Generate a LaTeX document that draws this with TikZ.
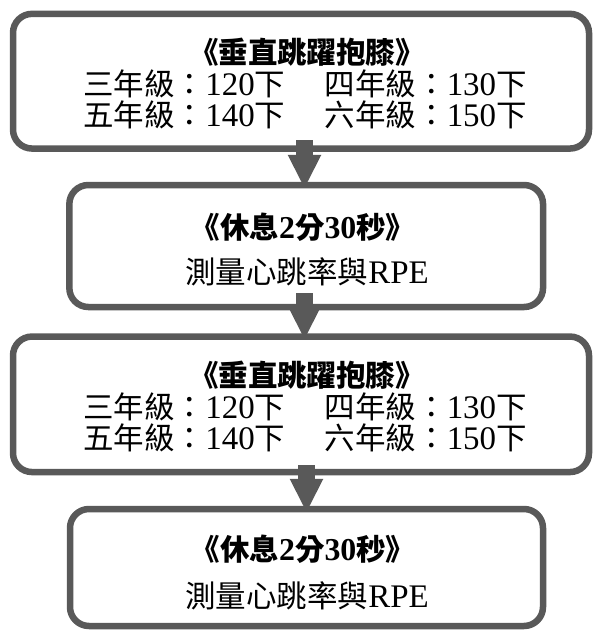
\documentclass[tikz,border=0pt]{standalone}
\usepackage{fontspec}
\setmainfont{Liberation Serif}[Scale=1.08]
\newfontfamily\cjk{Noto Sans CJK TC}
\newcommand{\C}[1]{{\cjk #1}}
\usetikzlibrary{arrows.meta}
\definecolor{bord}{HTML}{595959}
\tikzset{
  box/.style={draw=bord, line width=6.5pt, rounded corners=19pt, fill=white, inner sep=0pt},
  txt/.style={inner sep=0pt, font=\fontsize{30.5}{34}\selectfont, anchor=center},
  ttl/.style={inner sep=0pt, font=\fontsize{29.5}{33}\selectfont\bfseries, anchor=center},
  flow/.style={draw=bord, line width=17pt, -{Triangle[width=31pt,length=34pt]}}
}
\begin{document}
\begin{tikzpicture}[x=1pt,y=-1pt]
\useasboundingbox (0,0) rectangle (593,633);
\node[box, minimum width=576pt, minimum height=134.7pt] (b1) at (301,81.2) {};
\node[box, minimum width=473.7pt, minimum height=122pt] (b2) at (306.2,246) {};
\node[box, minimum width=576pt, minimum height=135.5pt] (b3) at (301,404.3) {};
\node[box, minimum width=473pt, minimum height=117pt] (b4) at (306.5,567.5) {};

\node[ttl] (t1) at (307,52) {\C{《垂直跳躍抱膝》}};
\node[txt] (l1a) at (305,84) {\C{三年級：}120\C{下}\hspace{1.2em}\C{四年級：}130\C{下}};
\node[txt] (l1b) at (305,115) {\C{五年級：}140\C{下}\hspace{1.2em}\C{六年級：}150\C{下}};

\node[ttl] (t2) at (303,227) {\C{《休息}2\C{分}30\C{秒》}};
\node[txt] (l2) at (307,272) {\C{測量心跳率與}RPE};

\node[ttl] (t3) at (307,375) {\C{《垂直跳躍抱膝》}};
\node[txt] (l3a) at (305,407) {\C{三年級：}120\C{下}\hspace{1.2em}\C{四年級：}130\C{下}};
\node[txt] (l3b) at (305,438) {\C{五年級：}140\C{下}\hspace{1.2em}\C{六年級：}150\C{下}};

\node[ttl] (t4) at (303,549) {\C{《休息}2\C{分}30\C{秒》}};
\node[txt] (l4) at (307,596) {\C{測量心跳率與}RPE};

\coordinate (a1s) at ([xshift=-1.7pt,yshift=11.5pt]b1.south -| b2.north);
\coordinate (a1e) at ([xshift=-1.7pt,yshift=-7pt]b2.north);
\coordinate (a2s) at ([xshift=-1.7pt,yshift=17pt]b2.south);
\coordinate (a2e) at ([xshift=-1.7pt,yshift=-6.5pt]b2.south |- b3.north);
\coordinate (a3s) at ([yshift=10pt]b3.south -| b4.north);
\coordinate (a3e) at ([yshift=-7pt]b4.north);

\draw[flow] (a1s) -- (a1e);
\draw[flow] (a2s) -- (a2e);
\draw[flow] (a3s) -- (a3e);
\end{tikzpicture}
\end{document}
